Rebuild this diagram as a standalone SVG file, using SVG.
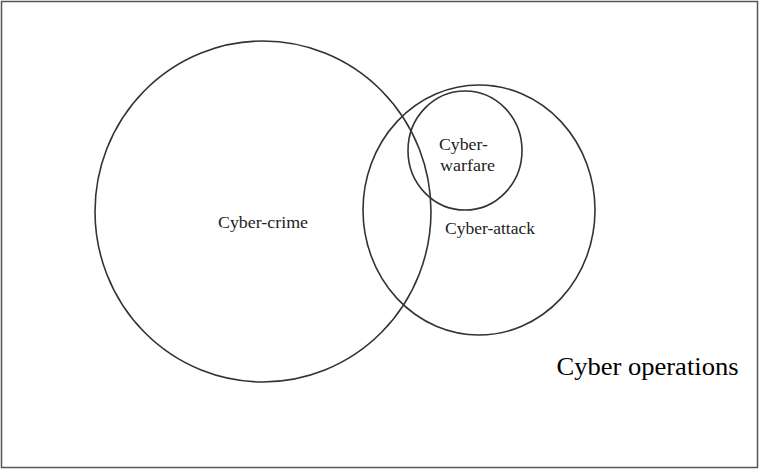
<svg xmlns="http://www.w3.org/2000/svg" width="760" height="470" viewBox="0 0 760 470">
  <style>
    .set { fill: none; stroke: #333; stroke-width: 1.6; }
    .lbl { font-family: "Liberation Serif", "Times New Roman", serif; font-size: 17px; fill: #222; }
    .big { font-family: "Liberation Serif", "Times New Roman", serif; font-size: 26px; fill: #000; }
  </style>
  <rect x="1.5" y="1.5" width="756" height="466" fill="#fff" stroke="#555" stroke-width="1.5"/>
  <g id="cyber-crime">
    <ellipse class="set" cx="263" cy="211.5" rx="168" ry="170.5"/>
    <text class="lbl" x="263" y="228" text-anchor="middle" textLength="90" lengthAdjust="spacingAndGlyphs">Cyber-crime</text>
  </g>
  <g id="cyber-attack">
    <ellipse class="set" cx="479" cy="210" rx="116" ry="125"/>
    <text class="lbl" x="445" y="234" textLength="90" lengthAdjust="spacingAndGlyphs">Cyber-attack</text>
  </g>
  <g id="cyber-warfare">
    <ellipse class="set" cx="465" cy="150.5" rx="57" ry="59.5"/>
    <text class="lbl" x="439" y="150" textLength="49" lengthAdjust="spacingAndGlyphs">Cyber-</text>
    <text class="lbl" x="440" y="171" textLength="55" lengthAdjust="spacingAndGlyphs">warfare</text>
  </g>
  <g id="cyber-operations">
    <text class="big" x="556.5" y="375" textLength="182" lengthAdjust="spacingAndGlyphs">Cyber operations</text>
  </g>
  <g id="connectors"/>
</svg>
